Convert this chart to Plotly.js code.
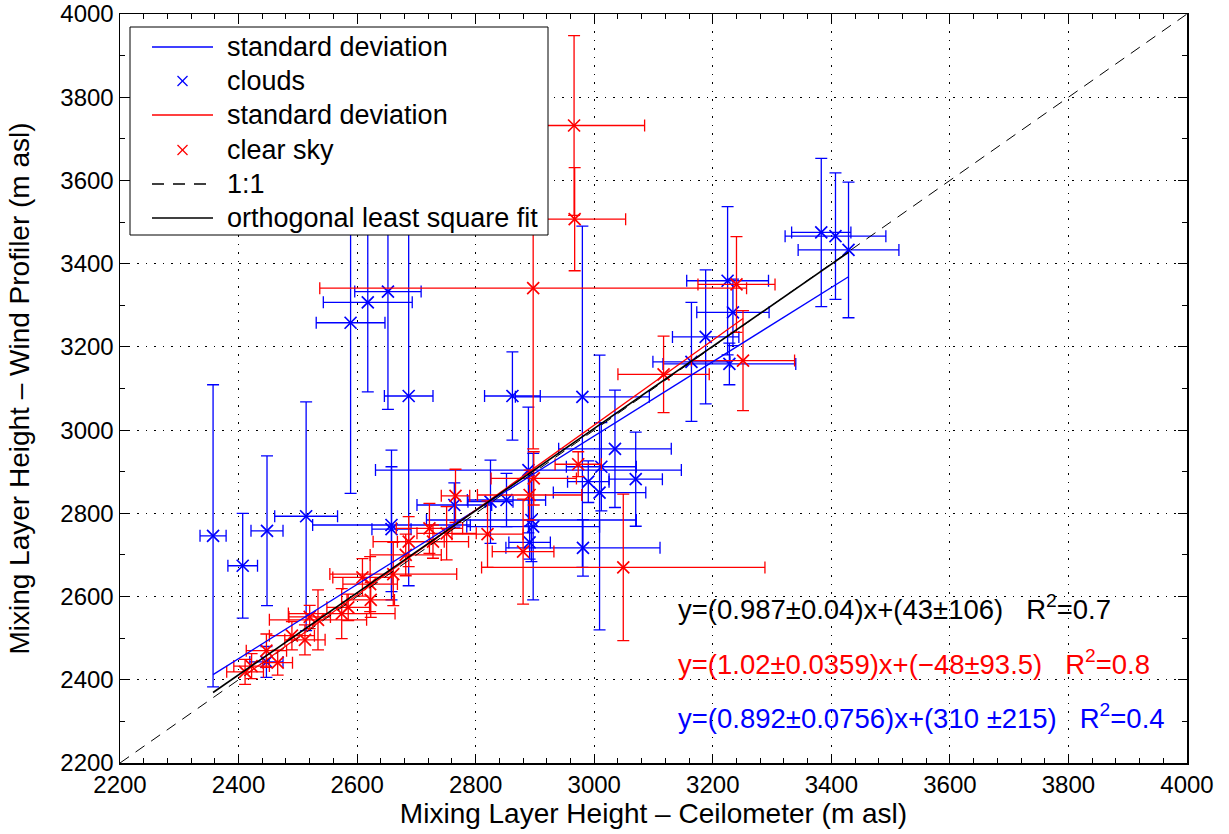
<!DOCTYPE html>
<html>
<head>
<meta charset="utf-8">
<script src="https://cdn.plot.ly/plotly-3.0.1.min.js"></script>
<style>html,body{margin:0;padding:0;background:#fff;}#chart{width:1229px;height:834px;}</style>
</head>
<body>
<div id="chart"></div>
<script>
// Clouds (blue)
const cloudsX  = [2357,2407,2448,2514,2447,2589,2618,2652,2687,2658,2658,2764,2825,2852,2862,2980,2889,2891,2897,2894,3009,3012,2990,3035,3070,2981,3164,3188,3225,3234,3228,3383,3407,3429];
const cloudsY  = [2746,2674,2758,2793,2443,3258,3307,3333,3082,2772,2762,2820,2828,2832,3082,3080,2904,2730,2768,2784,2850,2912,2876,2955,2882,2717,3164,3224,3359,3283,3159,3475,3466,3433];
const cloudsEx = [22,25,27,53,28,58,75,56,41,133,33,63,38,66,47,113,258,35,112,177,78,59,35,95,45,130,65,56,69,61,112,50,85,85];
const cloudsEy = [363,126,180,275,37,410,215,283,456,180,150,53,100,64,106,410,151,40,176,100,330,106,50,141,113,68,143,161,178,80,50,178,152,163];

// Clear sky (red)
const clearX  = [2411,2422,2447,2466,2490,2512,2520,2534,2574,2585,2609,2622,2623,2661,2682,2687,2722,2728,2751,2766,2820,2880,2891,2898,2973,3049,3117,3251,3240,2897,2967,2966];
const clearY  = [2419,2433,2470,2441,2506,2496,2551,2544,2559,2574,2646,2630,2592,2654,2700,2732,2764,2732,2752,2842,2750,2708,2844,2884,2918,2670,3134,3167,3350,3341,3507,3732];
const clearEx = [31,30,34,25,38,34,35,82,90,36,50,46,40,107,60,60,56,60,50,24,60,52,88,72,39,239,77,87,65,360,86,119];
const clearEy = [30,30,40,30,34,36,28,72,60,32,45,66,42,76,50,60,60,40,64,64,80,126,60,64,30,176,92,120,115,386,124,216];

// Orthogonal fits: black (all), red (clear sky), blue (clouds)
const fitNames      = ['all', 'clear sky', 'clouds'];
const fitSlopes     = [0.987, 1.02, 0.892];
const fitIntercepts = [43, -48, 310];
const fitColors     = ['#000000', '#ff0000', '#0000ff'];

// Equation texts
const eqTexts = [
  'y=(0.987\u00b10.04)x+(43\u00b1106)\u00a0\u00a0\u00a0R<sup>2</sup>=0.7',
  'y=(1.02\u00b10.0359)x+(\u221248\u00b193.5)\u00a0\u00a0\u00a0R<sup>2</sup>=0.8',
  'y=(0.892\u00b10.0756)x+(310\u00a0\u00b1215)\u00a0\u00a0\u00a0R<sup>2</sup>=0.4'
];
const eqColors = ['#000000', '#ff0000', '#0000ff'];

// Legend entries
const legendLabels = ['standard deviation', 'clouds', 'standard deviation', 'clear sky', '1:1', 'orthogonal least square fit'];
const legendKinds  = ['line', 'marker', 'line', 'marker', 'dash', 'line'];
const legendColors = ['#0000ff', '#0000ff', '#ff0000', '#ff0000', '#000000', '#000000'];

const axisMin = 2200, axisMax = 4000;

const FONT = 'Liberation Sans, Arial, Helvetica, sans-serif';

// plot area in pixels (for paper-coordinate legend placement)
const W = 1229, H = 834, ML = 120, MR = 42, MT = 14, MB = 71;
const PW = W - ML - MR, PH = H - MT - MB;
const px = v => (v - ML) / PW;
const py = v => (H - MB - v) / PH;

function range(arr){ return [Math.min(...arr), Math.max(...arr)]; }

const traces = [];

traces.push({
  x: cloudsX, y: cloudsY, type: 'scatter', mode: 'markers', showlegend: false,
  marker: {symbol: 'x-thin', size: 12, color: '#0000ff', line: {color: '#0000ff', width: 1.7}},
  error_x: {type: 'data', array: cloudsEx, visible: true, color: '#0000ff', thickness: 1.3, width: 6},
  error_y: {type: 'data', array: cloudsEy, visible: true, color: '#0000ff', thickness: 1.3, width: 6}
});
traces.push({
  x: clearX, y: clearY, type: 'scatter', mode: 'markers', showlegend: false,
  marker: {symbol: 'x-thin', size: 12, color: '#ff0000', line: {color: '#ff0000', width: 1.7}},
  error_x: {type: 'data', array: clearEx, visible: true, color: '#ff0000', thickness: 1.3, width: 6},
  error_y: {type: 'data', array: clearEy, visible: true, color: '#ff0000', thickness: 1.3, width: 6}
});

// 1:1 line
traces.push({x: [axisMin, axisMax], y: [axisMin, axisMax], type: 'scatter', mode: 'lines', showlegend: false,
  line: {color: '#000000', width: 1, dash: '11px,8px'}});

// Fit lines
const allX = cloudsX.concat(clearX);
const fitRanges = [range(allX), range(clearX), range(cloudsX)];
[2, 1, 0].forEach(i => {
  const xr = fitRanges[i];
  traces.push({x: xr, y: xr.map(v => fitSlopes[i] * v + fitIntercepts[i]), type: 'scatter', mode: 'lines',
    showlegend: false, line: {color: fitColors[i], width: i === 0 ? 1.6 : 1.3}});
});

// Custom legend (box, symbols, labels)
const shapes = [];
const legAnn = [];
const box = {l: 130, t: 27, r: 548, b: 235};
shapes.push({type: 'rect', xref: 'paper', yref: 'paper', layer: 'above',
  x0: px(box.l), x1: px(box.r), y0: py(box.b), y1: py(box.t),
  line: {color: '#000000', width: 1}, fillcolor: '#ffffff'});
const rowY = [47, 81, 115, 150, 184, 218];
const symL = 152, symR = 213, symC = (symL + symR) / 2, textL = 225, mk = 5;
legendLabels.forEach((lab, i) => {
  const yy = rowY[i];
  if (legendKinds[i] === 'marker') {
    shapes.push({type: 'line', xref: 'paper', yref: 'paper', layer: 'above',
      x0: px(symC - mk), x1: px(symC + mk), y0: py(yy - mk), y1: py(yy + mk), line: {color: legendColors[i], width: 1.3}});
    shapes.push({type: 'line', xref: 'paper', yref: 'paper', layer: 'above',
      x0: px(symC - mk), x1: px(symC + mk), y0: py(yy + mk), y1: py(yy - mk), line: {color: legendColors[i], width: 1.3}});
  } else {
    shapes.push({type: 'line', xref: 'paper', yref: 'paper', layer: 'above',
      x0: px(symL), x1: px(symR), y0: py(yy), y1: py(yy),
      line: {color: legendColors[i], width: 1.3, dash: legendKinds[i] === 'dash' ? '12px,9px' : 'solid'}});
  }
  legAnn.push({text: lab, xref: 'paper', yref: 'paper', x: px(textL), y: py(yy), xanchor: 'left', yanchor: 'middle',
    showarrow: false, font: {family: FONT, size: 27, color: '#000000'}});
});

const eqAnn = eqTexts.map((t, i) => ({
  text: t, xref: 'paper', yref: 'paper', x: px(676), y: py([607, 662, 716][i]),
  xanchor: 'left', yanchor: 'middle', showarrow: false,
  font: {family: FONT, size: 27.5, color: eqColors[i]}
}));

const axisCommon = {
  range: [axisMin, axisMax], dtick: 200, tick0: axisMin,
  showgrid: true, gridcolor: '#000000', griddash: '1.5px,7px', gridwidth: 1,
  showline: true, linecolor: '#000000', linewidth: 1.5, mirror: 'allticks',
  ticks: 'inside', ticklen: 9, tickwidth: 1, tickcolor: '#000000',
  zeroline: false, tickfont: {family: FONT, size: 24, color: '#000000'},
  fixedrange: true
};

const layout = {
  width: W, height: H,
  margin: {l: ML, r: MR, t: MT, b: MB, pad: 0},
  paper_bgcolor: '#ffffff', plot_bgcolor: '#ffffff',
  font: {family: FONT, color: '#000000'},
  showlegend: false,
  xaxis: Object.assign({}, axisCommon, {
    title: {text: 'Mixing Layer Height \u2013 Ceilometer (m asl)', font: {family: FONT, size: 28}, standoff: 5},
    minor: {ticks: 'inside', ticklen: 5, dtick: 40, tickcolor: '#000000', showgrid: false}
  }),
  yaxis: Object.assign({}, axisCommon, {
    title: {text: 'Mixing Layer Height \u2013 Wind Profiler (m asl)', font: {family: FONT, size: 28}, standoff: 22},
    minor: {ticks: 'inside', ticklen: 5, dtick: 100, tickcolor: '#000000', showgrid: false}
  }),
  shapes: shapes,
  annotations: legAnn.concat(eqAnn)
};

Plotly.newPlot('chart', traces, layout, {staticPlot: true, displayModeBar: false});
</script>
</body>
</html>
